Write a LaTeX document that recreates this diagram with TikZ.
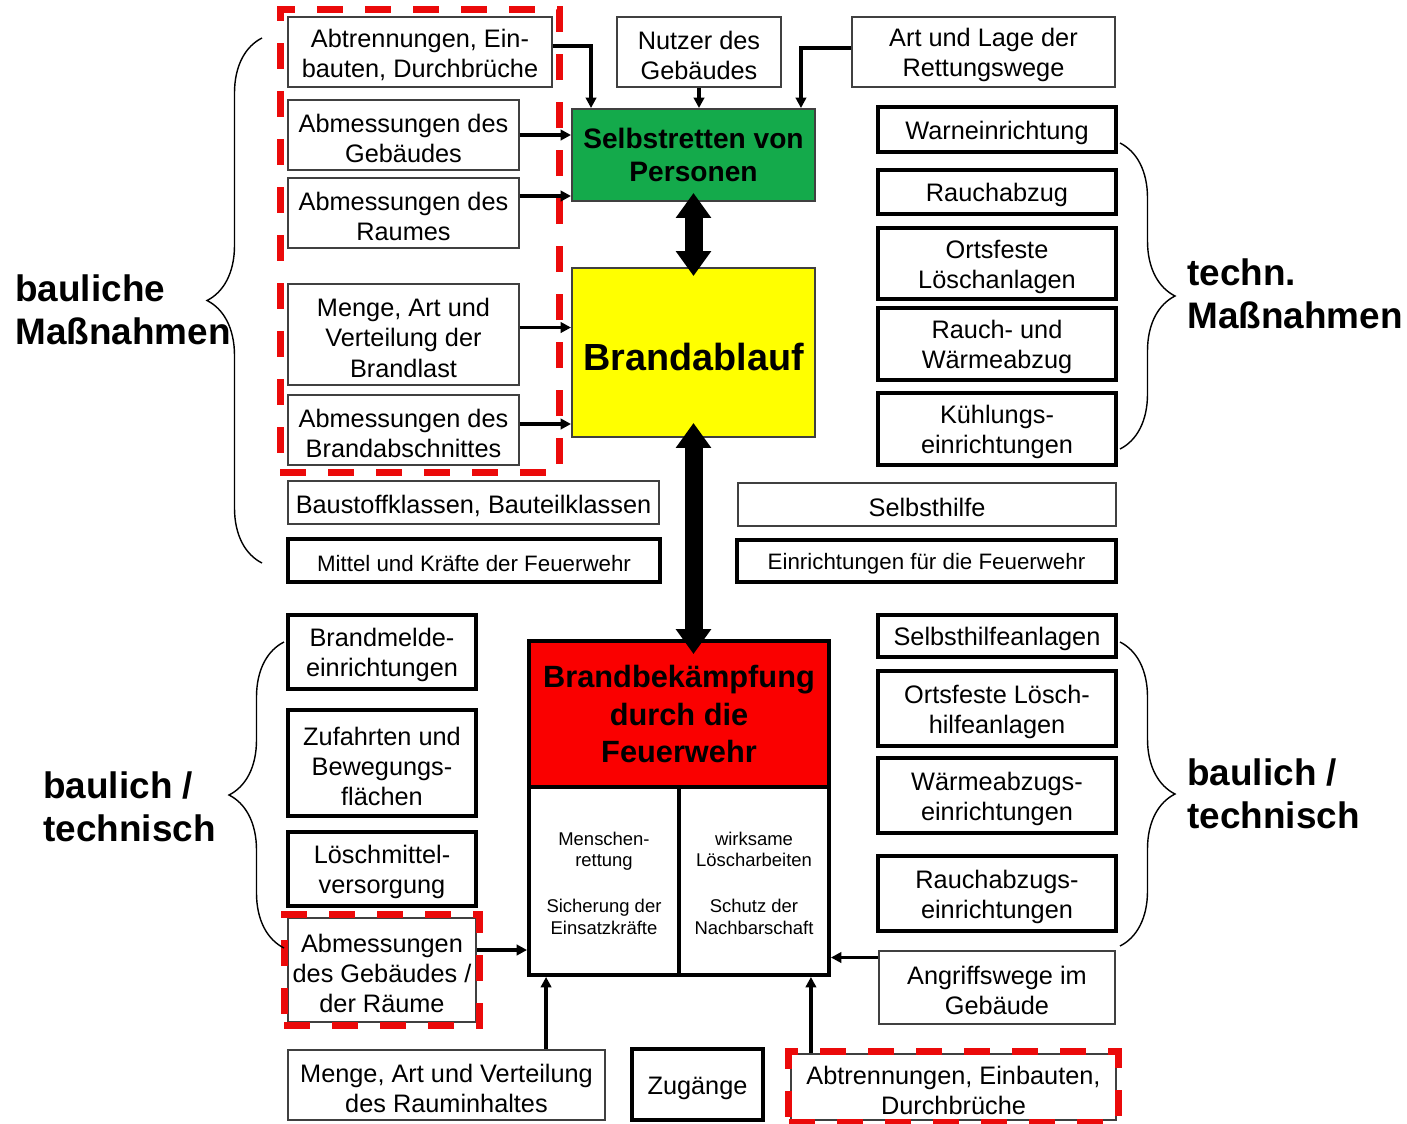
\documentclass[tikz,border=0pt]{standalone}
\usepackage{fontspec}
\setmainfont{Liberation Sans}
\usetikzlibrary{arrows.meta}
\usetikzlibrary{positioning, fit, decorations.pathreplacing}
\definecolor{fwgreen}{RGB}{20,170,75}
\definecolor{fwyellow}{RGB}{255,255,0}
\definecolor{fwred}{RGB}{250,0,0}
\definecolor{dashred}{RGB}{235,10,10}
\newcommand{\boxstrut}{\rule{0pt}{0.98em}}
\tikzset{
thin box/.style = { rectangle, draw = black!75, line width = 0.8pt, fill = white, align = center, inner sep = 0pt, font = \fontsize{14.4}{17.2}\selectfont, execute at begin node = \boxstrut },
thick box/.style = { thin box, draw = black, line width = 2.2pt },
wh/.style args = {#1/#2}{ minimum width = #1*0.2mm, minimum height = #2*0.2mm },
red frame/.style = { rectangle, draw = dashred, line width = 4pt, dash pattern = on 5.2mm off 4.4mm, inner sep = 1.4mm },
small arrow/.style = { -{Triangle[length = 2.1mm, width = 2.1mm]}, line width = 2pt },
big arrow/.style = { {Triangle[length = 5mm, width = 6.8mm]}-{Triangle[length = 5mm, width = 6.8mm]}, line width = 3.6mm },
side label/.style = { anchor = west, align = left, inner sep = 0pt, font = \fontsize{21}{24.5}\selectfont\bfseries },
curly/.style = { decorate, decoration = { brace, amplitude = 11mm }, line width = 0.8pt },
}

\begin{document}
\begin{tikzpicture}[x = 0.2mm, y = -0.2mm]
    \useasboundingbox (0, 0) rectangle (1407, 1124);
    % obere Haelfte
    \node[thin box, wh = 264/70] (abtr) at (420, 52) {\boxstrut Abtrennungen, Ein-\\bauten, Durchbrüche};
    \node[thin box, wh = 231/70] (abmgeb) at (403.5, 135) {\boxstrut Abmessungen des\\Gebäudes};
    \node[thin box, wh = 231/70] (abmraum) at (403.5, 213) {\boxstrut Abmessungen des\\Raumes};
    \node[thin box, wh = 231/101] (brandlast) at (403.5, 334.5) {\boxstrut Menge, Art und\\Verteilung der\\Brandlast};
    \node[thin box, wh = 231/70] (abschnitt) at (403.5, 430) {\boxstrut Abmessungen des\\Brandabschnittes};
    \node[red frame, fit = (abtr)(abmgeb)(abschnitt)] (rahmen) {};
    \node[thin box, wh = 371/43] (baustoff) at (473.5, 502.5) {Baustoffklassen, Bauteilklassen};
    \node[thick box, wh = 372/43, font = \fontsize{12.7}{15}\selectfont] (mittel) at (474, 560.5) {Mittel und Kräfte der Feuerwehr};
    \node[thin box, wh = 164/70] (nutzer) at (699, 52) {\boxstrut Nutzer des\\Gebäudes};
    \node[thin box, wh = 263/70] (rettweg) at (983.5, 52) {\boxstrut Art und Lage der\\Rettungswege};
    \node[thin box, wh = 243/92, fill = fwgreen, line width = 1.1pt, font = \fontsize{16}{18.7}\selectfont\bfseries] (selbst) at (693.5, 155) {Selbstretten von\\Personen};
    \node[thin box, wh = 243/169, fill = fwyellow, line width = 1.1pt, font = \fontsize{21.5}{25}\selectfont\bfseries, execute at begin node = {}] (ablauf) at (693.5, 352.5) {Brandablauf};
    \node[thick box, wh = 238/45] (warn) at (997, 129.5) {Warneinrichtung};
    \node[thick box, wh = 238/44] (rauch) at (997, 192) {Rauchabzug};
    \node[thick box, wh = 238/71] (ortsfest) at (997, 263.5) {\boxstrut Ortsfeste\\Löschanlagen};
    \node[thick box, wh = 238/72] (rwa) at (997, 344) {\boxstrut Rauch- und\\Wärmeabzug};
    \node[thick box, wh = 238/72] (kuehl) at (997, 429) {\boxstrut Kühlungs-\\einrichtungen};
    \node[thin box, wh = 378/43] (selbsthilfe) at (927, 504.5) {Selbsthilfe};
    \node[thick box, wh = 379/42, font = \fontsize{12.7}{15}\selectfont] (einrfw) at (926.5, 561) {Einrichtungen für die Feuerwehr};
    \node[side label] (baul) at (15, 309.5) {bauliche\\Maßnahmen};
    \node[side label] (techn) at (1187, 294) {techn.\\Maßnahmen};
    \draw[curly] (262, 563) -- (262, 38);
    \draw[curly] (1120, 143) -- (1120, 449);
    % untere Haelfte
    \node[thick box, wh = 300/146, fill = fwred, font = \fontsize{17.5}{21.5}\selectfont\bfseries] (bekaempf) at (679, 714) {Brandbekämpfung\\durch die\\Feuerwehr};
    \node[thick box, wh = 150/188, font = \fontsize{10.5}{12.5}\selectfont] (mensch) at (604, 881) {\boxstrut Menschen-\\rettung\\[4.8mm]Sicherung der\\Einsatzkräfte};
    \node[thick box, wh = 150/188, font = \fontsize{10.5}{12.5}\selectfont] (schutz) at (754, 881) {\boxstrut wirksame\\Löscharbeiten\\[4.8mm]Schutz der\\Nachbarschaft};
    \node[thick box, wh = 188/74] (melde) at (382, 652) {\boxstrut Brandmelde-\\einrichtungen};
    \node[thick box, wh = 188/106] (zufahrt) at (382, 763) {\boxstrut Zufahrten und\\Bewegungs-\\flächen};
    \node[thick box, wh = 188/74] (loeschm) at (382, 869) {\boxstrut Löschmittel-\\versorgung};
    \node[thin box, wh = 188/104] (abmr) at (382, 970) {\boxstrut Abmessungen\\des Gebäudes /\\der Räume};
    \node[red frame, inner sep = 0.6mm, fit = (abmr)] (rahmenabmr) {};
    \node[thin box, wh = 317/70] (rauminh) at (446.5, 1085) {\boxstrut Menge, Art und Verteilung\\des Rauminhaltes};
    \node[thick box, wh = 131/71] (zugang) at (697.5, 1084.5) {Zugänge};
    \node[thin box, wh = 325/66] (abtrunten) at (953.5, 1087) {\boxstrut Abtrennungen, Einbauten,\\Durchbrüche};
    \node[red frame, inner sep = 0.3mm, fit = (abtrunten)] (rahmenabtr) {};
    \node[thick box, wh = 238/42] (shanl) at (997, 636) {Selbsthilfeanlagen};
    \node[thick box, wh = 238/75] (loeschhilfe) at (997, 708.5) {\boxstrut Ortsfeste Lösch-\\hilfeanlagen};
    \node[thick box, wh = 238/75] (waerme) at (997, 795.5) {\boxstrut Wärmeabzugs-\\einrichtungen};
    \node[thick box, wh = 238/75] (rauchabz) at (997, 893.5) {\boxstrut Rauchabzugs-\\einrichtungen};
    \node[thin box, wh = 236/73] (angriff) at (997, 987.5) {\boxstrut Angriffswege im\\Gebäude};
    \node[side label] (baultechl) at (43, 807) {baulich /\\technisch};
    \node[side label] (baultechr) at (1187, 794) {baulich /\\technisch};
    \draw[curly] (284, 948) -- (284, 642);
    \draw[curly] (1120, 642) -- (1120, 946);
    % Pfeile
    \coordinate (inAbtr) at ([shift = {(20, 0)}]selbst.north west);
    \coordinate (inWeg) at ([shift = {(-15, 0)}]selbst.north east);
    \coordinate (outRaum) at ([shift = {(0, -17)}]abmraum.east);
    \coordinate (outLast) at ([shift = {(0, -7)}]brandlast.east);
    \coordinate (outAbschn) at ([shift = {(0, -6)}]abschnitt.east);
    \coordinate (outAbmr) at ([shift = {(0, -20)}]abmr.east);
    \coordinate (inRaumInh) at ([shift = {(19, 0)}]mensch.south west);
    \coordinate (inAbtrU) at ([shift = {(-20, 0)}]schutz.south east);
    \coordinate (outAngr) at ([shift = {(0, -30)}]angriff.west);
    \draw[small arrow] ([shift = {(0, -6)}]abtr.east) -| (inAbtr);
    \draw[small arrow] (nutzer.south) -- (nutzer.south |- selbst.north);
    \draw[small arrow] ([shift = {(0, -4)}]rettweg.west) -| (inWeg);
    \draw[small arrow] (abmgeb.east) -- (abmgeb.east -| selbst.west);
    \draw[small arrow] (outRaum) -- (outRaum -| selbst.west);
    \draw[small arrow] (outLast) -- (outLast -| ablauf.west);
    \draw[small arrow] (outAbschn) -- (outAbschn -| ablauf.west);
    \draw[small arrow] (outAbmr) -- (outAbmr -| mensch.west);
    \draw[small arrow] (rauminh.north -| inRaumInh) -- (inRaumInh);
    \draw[small arrow] (abtrunten.north -| inAbtrU) -- (inAbtrU);
    \draw[small arrow] (outAngr) -- (outAngr -| schutz.east);
    \draw[big arrow, shorten < = -1.8mm, shorten > = -1.8mm] (selbst.south) -- (selbst.south |- ablauf.north);
    \draw[big arrow, shorten < = -3mm, shorten > = -3mm] (ablauf.south) -- (ablauf.south |- bekaempf.north);
\end{tikzpicture}
\end{document}
